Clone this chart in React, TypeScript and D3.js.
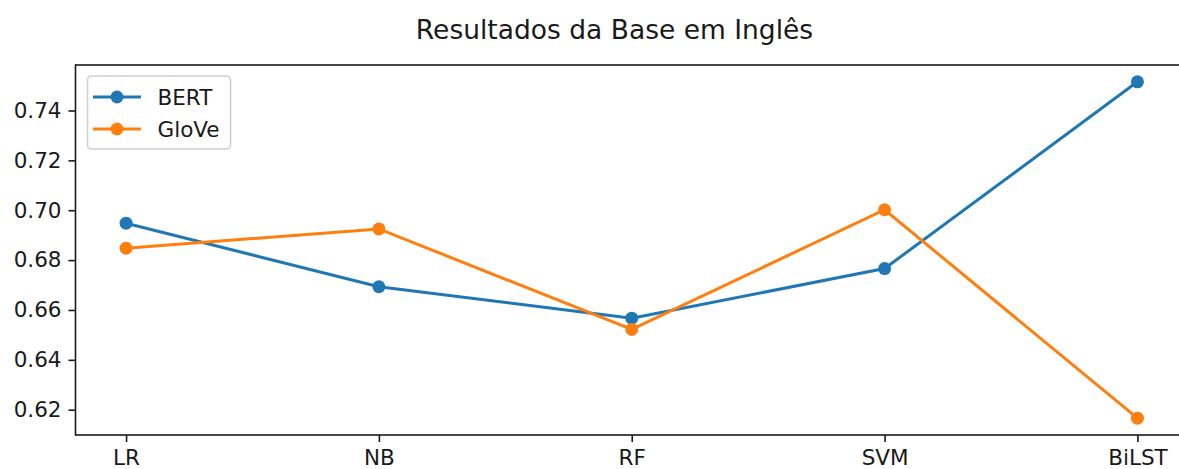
import * as d3 from 'd3';
import { useEffect, useRef } from 'react';

const categories = ['LR', 'NB', 'RF', 'SVM', 'BiLST'];
const bertValues = [0.6948, 0.6693, 0.6567, 0.6766, 0.7515];
const gloveValues = [0.6848, 0.6925, 0.6522, 0.7002, 0.6166];
const yTicks = [0.62, 0.64, 0.66, 0.68, 0.70, 0.72, 0.74];
const seriesNames = ['BERT', 'GloVe'];
const seriesColors = ['#1f77b4', '#ff7f0e'];

const W = 1179;
const H = 469;

function App() {
    const ref = useRef<SVGSVGElement>(null);

    useEffect(() => {
        const svg = d3.select(ref.current);
        svg.selectAll('*').remove();

        const left = 75.5;
        const right = 1188;
        const top = 65;
        const bottom = 435;
        const font = 'DejaVu Sans, sans-serif';
        const txt = '#1a1a1a';
        const fs = 21.5;

        // matplotlib-like 5% margins
        const xScale = d3.scaleLinear()
            .domain([-0.2, categories.length - 1 + 0.2])
            .range([left, right]);

        const all = bertValues.concat(gloveValues);
        const yMin = d3.min(all) as number;
        const yMax = d3.max(all) as number;
        const pad = (yMax - yMin) * 0.05;
        const yScale = d3.scaleLinear()
            .domain([yMin - pad, yMax + pad])
            .range([bottom, top]);

        // y axis
        const yAxis = svg.append('g')
            .attr('transform', `translate(${left},0)`)
            .call(d3.axisLeft(yScale).tickValues(yTicks).tickSize(7).tickPadding(7).tickFormat(d3.format('.2f')));
        yAxis.select('.domain').remove();
        yAxis.selectAll('line').attr('stroke', txt).attr('stroke-width', 1.6);
        yAxis.selectAll('text').attr('font-family', font).attr('font-size', fs).attr('fill', txt);

        // x axis
        const xAxis = svg.append('g')
            .attr('transform', `translate(0,${bottom})`)
            .call(d3.axisBottom(xScale).tickValues(d3.range(categories.length)).tickSize(7).tickPadding(8)
                .tickFormat((d) => categories[d as number]));
        xAxis.select('.domain').remove();
        xAxis.selectAll('line').attr('stroke', txt).attr('stroke-width', 1.6);
        xAxis.selectAll('text').attr('font-family', font).attr('font-size', fs).attr('fill', txt);

        // frame
        svg.append('rect')
            .attr('x', left).attr('y', top)
            .attr('width', right - left).attr('height', bottom - top)
            .attr('fill', 'none').attr('stroke', txt).attr('stroke-width', 1.6);

        const line = d3.line<number>()
            .x((d, i) => xScale(i))
            .y((d) => yScale(d));

        [bertValues, gloveValues].forEach((vals, k) => {
            svg.append('path')
                .datum(vals)
                .attr('d', line)
                .attr('fill', 'none')
                .attr('stroke', seriesColors[k])
                .attr('stroke-width', 3);
            svg.append('g')
                .selectAll('circle')
                .data(vals)
                .join('circle')
                .attr('cx', (d, i) => xScale(i))
                .attr('cy', (d) => yScale(d))
                .attr('r', 6.5)
                .attr('fill', seriesColors[k]);
        });

        // legend
        const lg = svg.append('g');
        lg.append('rect')
            .attr('x', 87.5).attr('y', 76)
            .attr('width', 143).attr('height', 73)
            .attr('rx', 4)
            .attr('fill', 'white').attr('fill-opacity', 0.8)
            .attr('stroke', '#d0d0d0').attr('stroke-width', 1.6);
        seriesNames.forEach((name, k) => {
            const cy = 97 + k * 32;
            lg.append('line')
                .attr('x1', 93).attr('x2', 141)
                .attr('y1', cy).attr('y2', cy)
                .attr('stroke', seriesColors[k]).attr('stroke-width', 3);
            lg.append('circle')
                .attr('cx', 117).attr('cy', cy).attr('r', 6.5)
                .attr('fill', seriesColors[k]);
            lg.append('text')
                .attr('x', 157.5).attr('y', cy + 7.5)
                .attr('font-family', font).attr('font-size', fs).attr('fill', txt)
                .text(name);
        });

        svg.append('text')
            .attr('x', 614.5).attr('y', 39)
            .attr('text-anchor', 'middle')
            .attr('font-family', font).attr('font-size', 26.5).attr('fill', txt)
            .text('Resultados da Base em Inglês');
    }, []);

    return (
        <svg ref={ref} width={W} height={H}
            style={{ position: 'absolute', left: 0, top: 0, background: 'white' }} />
    );
}

export default App;
